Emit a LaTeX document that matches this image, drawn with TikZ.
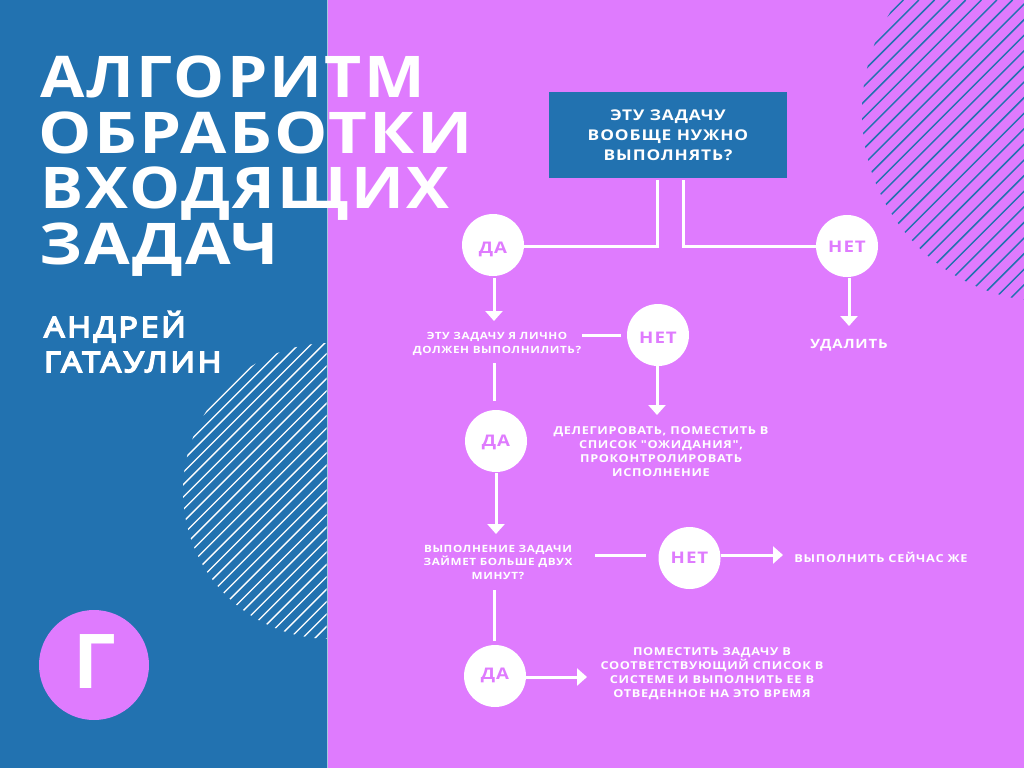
\documentclass[tikz,border=0pt]{standalone}
\usepackage{fontspec}
\setmainfont{Open Sans}
\newfontfamily\titlef[LetterSpace=4,FakeStretch=1.14]{Open Sans}
\newfontfamily\smallf[LetterSpace=6,FakeStretch=1.17]{Open Sans}
\newfontfamily\authorf[LetterSpace=10.5,FakeStretch=1.14,FakeBold=6]{Open Sans}
\usetikzlibrary{arrows.meta,calc}
\definecolor{panelblue}{HTML}{2272B0}
\definecolor{bgpink}{HTML}{DF7BFE}
\tikzset{
  x=1pt,y=-1pt,
  conn/.style={draw=white,line width=3pt},
  arr/.style={conn,-{Triangle[width=17pt,length=10pt]}},
  round/.style={circle,fill=white,text=bgpink,minimum size=62pt,inner sep=0pt,text height=#1,text depth=0pt,font=\smallf\fontsize{16}{18}\selectfont\bfseries},
  lab/.style={text=white,align=center,inner sep=0pt,font=\smallf\fontsize{10.9}{14}\selectfont\bfseries},
  labq/.style={lab,font=\smallf\fontsize{10}{13.5}\selectfont\bfseries},
  titletxt/.style={text=white,anchor=base west,inner sep=0pt,font=\titlef\fontsize{57.5}{58}\selectfont\bfseries},
  authortxt/.style={text=white,anchor=base west,inner sep=0pt,font=\authorf\fontsize{28}{28}\selectfont}
}
\begin{document}
\begin{tikzpicture}
\useasboundingbox (0,0) rectangle (1024,768);
\fill[bgpink] (0,0) rectangle (1024,768);
\fill[panelblue] (0,0) rectangle (327,768);
\draw[white!60!panelblue,line width=0.6pt] (327,0) -- (327,768);
% hatched circles
\begin{scope}
  \clip (1052,112) circle (190) ;
  \clip (0,0) rectangle (1024,768);
  \foreach \i in {0,...,30}{
    \pgfmathsetmacro{\c}{903.3+15.6*\i}
    \draw[panelblue,line width=1.5pt] (\c,0) -- (\c-400,400);
  }
\end{scope}
\begin{scope}
  \clip (331,491) circle (148);
  \clip (0,0) rectangle (326.6,768);
  \foreach \i in {0,...,30}{
    \pgfmathsetmacro{\c}{618.3+12.4*\i}
    \draw[white,line width=1.3pt] (\c,0) -- (\c-700,700);
  }
\end{scope}
% title
\node[titletxt] (t1) at (40,97) {\scalebox{.98}[1]{АЛГОРИТМ}};
\node[titletxt] (t2) at (38.5,153) {\scalebox{1.024}[1]{ОБРАБОТКИ}};
\node[titletxt] (t3) at (40,208.5) {\scalebox{.98}[1]{ВХОДЯЩИХ}};
\node[titletxt] (t4) at (39,264) {\scalebox{1.01}[1]{ЗАДАЧ}};
\node[authortxt] (a1) at (44,337) {АНДРЕЙ};
\node[authortxt] (a2) at (44,372) {ГАТАУЛИН};
\node[circle,fill=bgpink,minimum size=110pt,inner sep=0pt] (logo) at (94,665) {};
\node[text=white,anchor=base west,inner sep=0pt,font=\fontsize{75.6}{76}\selectfont\bfseries] (logot) at (73.5,688) {Г};
% box
\node[fill=panelblue,draw=none,minimum width=238pt,minimum height=86pt,inner sep=0pt,text=white,align=center,font=\smallf\fontsize{14.8}{20}\selectfont\bfseries] (box) at (668,135) {ЭТУ ЗАДАЧУ\\ВООБЩЕ НУЖНО\\ВЫПОЛНЯТЬ?};
% circles
\node[round=16.4pt] (da1) at (493,245) {ДА};
\node[round=13.4pt] (net1) at (847,246) {НЕТ};
\node[round=17pt] (net2) at (658,335) {НЕТ};
\node[round=11.4pt] (da2) at (496,441) {ДА};
\node[round=11.4pt] (net3) at (689.5,558) {НЕТ};
\node[round=7.4pt] (da3) at (495,676) {ДА};
% labels
\node[labq] (q1) at (497,344) {ЭТУ ЗАДАЧУ Я ЛИЧНО\\ДОЛЖЕН ВЫПОЛНИЛИТЬ?};
\node[labq] (q2) at (498,562) {ВЫПОЛНЕНИЕ ЗАДАЧИ\\ЗАЙМЕТ БОЛЬШЕ ДВУХ\\МИНУТ?};
\node[lab] (del) at (661,452) {ДЕЛЕГИРОВАТЬ, ПОМЕСТИТЬ В\\СПИСОК "ОЖИДАНИЯ",\\ПРОКОНТРОЛИРОВАТЬ\\ИСПОЛНЕНИЕ};
\node[lab,font=\smallf\fontsize{12.8}{15}\selectfont\bfseries] (rem) at (849,345) {УДАЛИТЬ};
\node[lab] (now) at (881,557.5) {ВЫПОЛНИТЬ СЕЙЧАС ЖЕ};
\node[lab] (put) at (712,674) {ПОМЕСТИТЬ ЗАДАЧУ В\\СООТВЕТСТВУЮЩИЙ СПИСОК В\\СИСТЕМЕ И ВЫПОЛНИТЬ ЕЕ В\\ОТВЕДЕННОЕ НА ЭТО ВРЕМЯ};
% connector ends in the gaps
\coordinate (b1) at (657,180);
\coordinate (b2) at (683,180);
\coordinate (d1s) at (494,278);
\coordinate (q1n) at (494,321);
\coordinate (q1s) at (494,363);
\coordinate (d2n) at (494,401);
\coordinate (q1e) at (582,335);
\coordinate (n2w) at (621,335);
\coordinate (n2s) at (657,366);
\coordinate (deln) at (657,415);
\coordinate (d2s) at (496,473);
\coordinate (q2n) at (496,534);
\coordinate (q2e) at (595,555);
\coordinate (n3w) at (646,555);
\coordinate (n3e) at (721,555);
\coordinate (nowW) at (783,555);
\coordinate (q2s) at (494,590);
\coordinate (d3n) at (494,641);
\coordinate (d3e) at (526,677);
\coordinate (putW) at (587,677);
\coordinate (n1s) at (849,278);
\coordinate (remn) at (849,326);
% connectors
\draw[conn] (b1) -- (657,246) -- (da1.east |- 0,246);
\draw[conn] (b2) -- (683,246) -- (net1.west |- 0,246);
\draw[arr] (d1s) -- (q1n);
\draw[conn] (q1s) -- (d2n);
\draw[conn] (q1e) -- (n2w);
\draw[arr] (n2s) -- (deln);
\draw[arr] (d2s) -- (q2n);
\draw[conn] (q2e) -- (n3w);
\draw[arr] (n3e) -- (nowW);
\draw[conn] (q2s) -- (d3n);
\draw[arr] (d3e) -- (putW);
\draw[arr] (n1s) -- (remn);
\end{tikzpicture}
\end{document}
